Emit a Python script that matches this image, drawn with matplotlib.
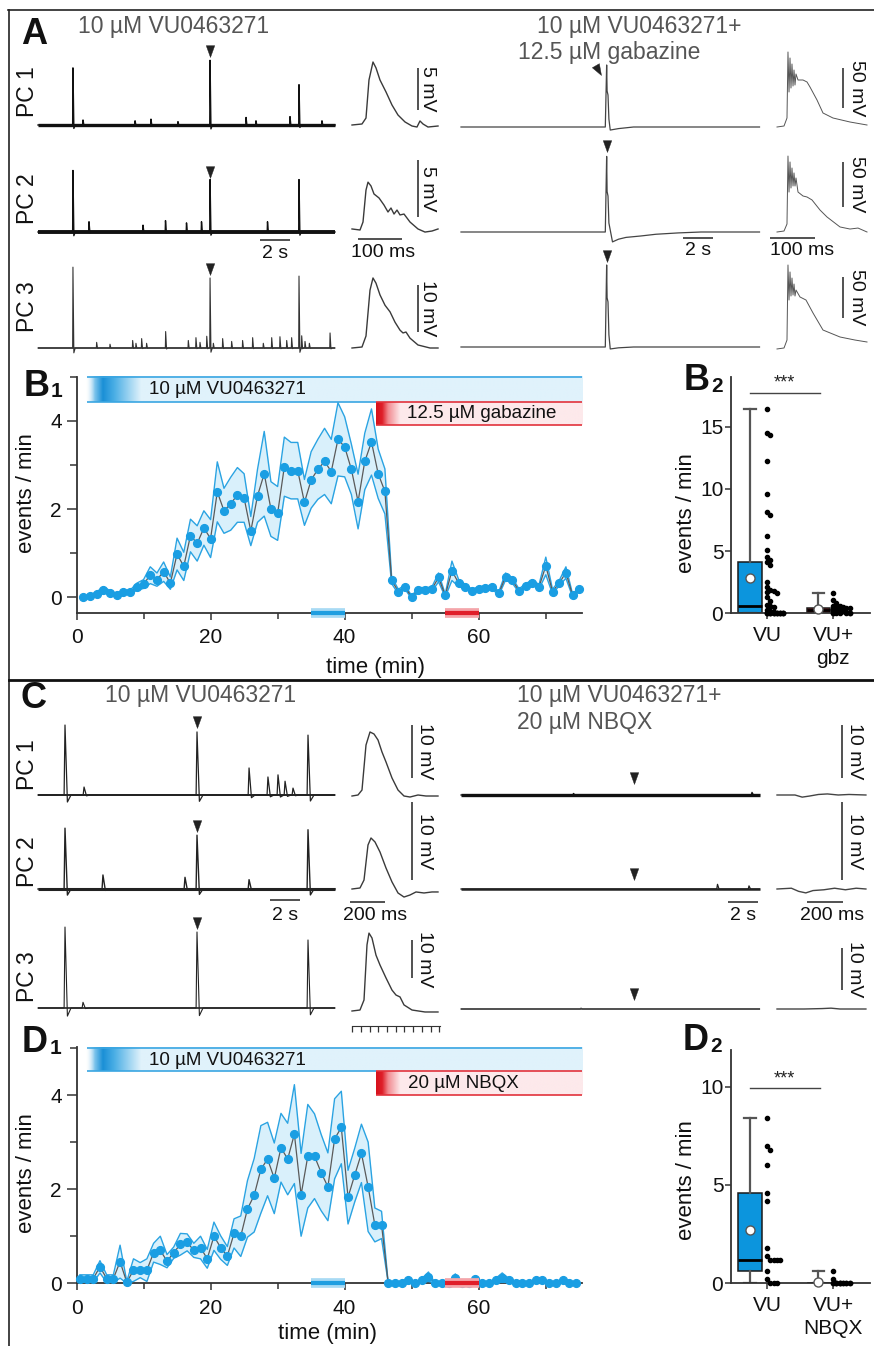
import numpy as np
import matplotlib
matplotlib.use("Agg")
import matplotlib.pyplot as plt
from matplotlib.path import Path
from matplotlib.transforms import Affine2D
from matplotlib.lines import Line2D
from matplotlib.colors import to_rgba
from matplotlib.ticker import FixedLocator

plt.rcParams['font.family'] = ['Liberation Sans', 'DejaVu Sans']
MU = '\u00b5'

# ---------------------------------------------------------------- data
# B1: event rate during VU0463271, then VU0463271 + gabazine (mean, SEM)
time_b = np.arange(1, 76)
rate_b = [0.0, 0.03, 0.08, 0.17, 0.1, 0.05, 0.12, 0.12, 0.24, 0.3,
          0.5, 0.4, 0.58, 0.32, 0.98, 0.7, 1.4, 1.22, 1.57, 1.33,
          2.39, 1.96, 2.12, 2.32, 2.25, 1.5, 2.3, 2.8, 2.0, 1.9,
          2.96, 2.87, 2.87, 2.15, 2.66, 2.9, 3.08, 2.85, 3.58, 3.41,
          2.9, 2.17, 3.08, 3.52, 2.8, 2.4, 0.39, 0.13, 0.23, 0.0,
          0.17, 0.17, 0.18, 0.45, 0.04, 0.6, 0.32, 0.24, 0.14, 0.19,
          0.2, 0.23, 0.09, 0.47, 0.38, 0.15, 0.26, 0.33, 0.24, 0.71,
          0.13, 0.32, 0.56, 0.04, 0.19]
sem_b = [0.02, 0.03, 0.04, 0.07, 0.05, 0.03, 0.04, 0.04, 0.08, 0.1,
         0.19, 0.15, 0.22, 0.14, 0.36, 0.32, 0.37, 0.4, 0.39, 0.43,
         0.68, 0.51, 0.6, 0.62, 0.55, 0.33, 0.6, 0.96, 0.62, 0.61,
         0.67, 0.64, 0.64, 0.52, 0.64, 0.68, 0.75, 0.73, 0.83, 0.68,
         0.57, 0.62, 0.64, 0.75, 0.56, 0.51, 0.08, 0.05, 0.05, 0.03,
         0.05, 0.05, 0.05, 0.1, 0.03, 0.22, 0.08, 0.05, 0.04, 0.05,
         0.05, 0.05, 0.04, 0.08, 0.06, 0.04, 0.05, 0.06, 0.05, 0.2,
         0.05, 0.06, 0.13, 0.03, 0.05]

# D1: event rate during VU0463271, then VU0463271 + NBQX (mean, SEM)
time_d = np.arange(0.5, 75, 1.0)
rate_d = [0.1, 0.1, 0.1, 0.35, 0.1, 0.1, 0.46, 0.02, 0.28, 0.28,
          0.28, 0.65, 0.7, 0.47, 0.65, 0.83, 0.87, 0.7, 0.76, 0.52,
          1.0, 0.76, 0.58, 1.06, 1.0, 1.58, 1.87, 2.42, 2.64, 2.23,
          2.88, 2.64, 3.17, 1.88, 2.7, 2.7, 2.35, 2.05, 3.07, 3.31,
          1.83, 2.3, 2.76, 2.05, 1.24, 1.24, 0.0, 0.0, 0.0, 0.06,
          0.0, 0.06, 0.14, 0.0, 0.0, 0.0, 0.12, 0.0, 0.0, 0.09,
          0.0, 0.0, 0.06, 0.12, 0.06, 0.0, 0.0, 0.0, 0.06, 0.06,
          0.0, 0.0, 0.06, 0.0, 0.0]
sem_d = [0.08, 0.08, 0.08, 0.13, 0.08, 0.08, 0.35, 0.02, 0.24, 0.16,
         0.24, 0.2, 0.3, 0.14, 0.12, 0.23, 0.18, 0.15, 0.24, 0.2,
         0.3, 0.25, 0.2, 0.31, 0.43, 0.6, 0.78, 0.93, 0.78, 0.75,
         0.73, 0.76, 1.05, 0.88, 1.1, 0.9, 0.81, 0.72, 0.85, 0.77,
         0.57, 0.57, 0.62, 0.95, 0.36, 0.29, 0.0, 0.0, 0.0, 0.04,
         0.0, 0.04, 0.1, 0.0, 0.0, 0.0, 0.08, 0.0, 0.0, 0.06,
         0.0, 0.0, 0.04, 0.1, 0.04, 0.0, 0.0, 0.0, 0.04, 0.04,
         0.0, 0.0, 0.04, 0.0, 0.0]

# drug application (min)
vu_start = 1.2
second_drug_start = 44.6
record_end = 75.4
window_vu = (35, 40)
window_drug = (55, 60)

# B2 / D2: per-cell event rates (events/min)
b2_vu = [16.4, 14.5, 14.3, 12.2, 9.6, 8.1, 7.9, 6.2, 5.1, 4.5, 4.3, 4.1, 3.9,
         2.5, 2.1, 1.9, 1.8, 1.7, 1.6, 1.3, 1.0, 0.7, 0.6, 0.5, 0.3, 0.2, 0.1] + [0.0] * 18
b2_gbz = [1.65, 1.05, 0.8, 0.6, 0.55, 0.5, 0.45, 0.4, 0.4, 0.35, 0.3, 0.3, 0.25,
          0.2, 0.2, 0.15, 0.1, 0.1, 0.05, 0.05] + [0.0] * 5
d2_vu = [8.4, 7.0, 6.8, 6.0, 4.6, 4.2, 1.8, 1.4, 1.2, 1.2, 1.2, 1.2, 0.6, 0.2, 0.0, 0.0, 0.0]
d2_nbqx = [0.6, 0.2] + [0.0] * 14
b2_labels = ['VU', 'VU+\ngbz']
d2_labels = ['VU', 'VU+\nNBQX']

# A: recordings in VU0463271 -- event times (s) and amplitudes (mV)
a_vu1_t = [2.33, 3.0, 6.47, 7.53, 9.33, 11.47, 13.87, 14.53, 16.8, 17.4, 18.93]
a_vu1_a = [6.8, 0.6, 0.5, 0.7, 0.4, 7.7, 0.9, 0.5, 1.0, 4.8, 0.5]
a_vu2_t = [2.33, 3.4, 7.0, 8.5, 9.9, 10.9, 11.47, 15.3, 17.4]
a_vu2_a = [5.4, 0.9, 0.6, 1.0, 0.8, 0.9, 4.6, 0.9, 4.6]
a_vu3_t = [2.33, 3.91, 4.8, 6.31, 6.53, 6.91, 7.24, 8.51, 10.02, 10.53, 10.8, 11.25,
           11.47, 11.69, 12.31, 12.91, 13.64, 14.31, 15.02, 15.58, 16.13, 16.58,
           16.91, 17.4, 17.58, 17.8, 18.09, 19.47]
a_vu3_a = [17.2, 1.2, 0.8, 1.6, 1.0, 2.0, 1.0, 3.5, 1.6, 2.2, 1.2, 2.5,
           14.9, 1.0, 2.0, 1.4, 1.6, 2.2, 1.0, 2.2, 2.4, 1.6,
           2.2, 15.3, 2.6, 1.4, 1.0, 3.2]
# expanded events (ms, mV)
a_ex1_ms = [0, 22.7, 31.8, 38.6, 47.7, 54.5, 63.6, 77.3, 90.9, 104.5, 120.5, 136.4, 147.7, 154.5, 161.4, 172.7, 195.5]
a_ex1_mv = [0, 0.12, 0.83, 5.36, 7.5, 6.8, 5.36, 3.93, 2.38, 1.19, 0.36, -0.12, -0.24, 0.48, 0.12, -0.24, -0.12]
a_ex2_ms = [0, 18.2, 25, 31.8, 36.4, 43.2, 50, 61.4, 72.7, 81.8, 88.6, 95.5, 102.3, 109.1, 118.2, 131.8, 150, 165.9, 181.8, 195.5]
a_ex2_mv = [0.09, 0, 0.7, 3.5, 4.2, 3.86, 3.16, 2.81, 2.19, 1.58, 1.93, 1.4, 1.75, 1.32, 1.4, 0.7, 0.09, -0.18, -0.09, 0.09]
a_ex3_ms = [0, 22.7, 31.8, 40.9, 47.7, 54.5, 63.6, 75, 86.4, 97.7, 109.1, 115.9, 122.7, 131.8, 150, 177.3, 195.5]
a_ex3_mv = [0, 0.21, 2.55, 12.3, 14.9, 13.8, 11.3, 9.1, 7.7, 5.5, 3.8, 3.2, 3.4, 2.1, 0.64, 0, 0]

# A: recordings in VU0463271 + gabazine
g_long1_t = [0, 9.62, 9.71, 9.74, 9.8, 9.86, 9.95, 10.5, 11.5, 19.9]
g_long1_v = [0, 0, 77.5, 45, 40, 10, -3.8, -2, 0, 0]
g_long2_t = [0, 9.62, 9.71, 9.74, 9.8, 9.86, 10.1, 10.5, 11.0, 12.0, 13.0, 14.5, 16.0, 19.9]
g_long2_v = [0, 0, 84, 45, 40, 10, -11, -8, -6, -4.4, -2.5, -1, 0, 0]
g_long3_t = [0, 9.62, 9.71, 9.74, 9.8, 9.86, 9.95, 10.5, 11.5, 19.9]
g_long3_v = [0, 0, 100, 60, 55, 15, -2.4, -1, 0, 0]
g_ex1_ms = [0, 15.6, 22.2, 24.4, 26.7, 28.9, 31.1, 33.3, 35.6, 37.8, 40, 42.2, 46.7, 57.8, 66.7, 73.3, 88.9, 102.2, 124.4, 162.2, 200]
g_ex1_mv = [0, 1.25, 11.25, 93.75, 43.75, 86.25, 48.75, 78.75, 51.25, 71.25, 52.5, 66.25, 58.75, 58.75, 56.25, 50, 33.75, 17.5, 11.25, 6.25, 2.5]
g_ex2_ms = [0, 15.6, 22.2, 24.4, 26.7, 28.9, 31.1, 33.3, 35.6, 37.8, 40, 42.2, 46.7, 57.8, 66.7, 77.8, 95.6, 111.1, 140, 162.2, 180, 200]
g_ex2_mv = [0, 1.1, 8.9, 84.4, 44.4, 77.8, 48.9, 71.1, 51.1, 65.6, 51.1, 60, 44.4, 40, 38.9, 35.6, 24.4, 16.7, 5.6, 3.3, 4.4, 0]
g_ex3_ms = [0, 15.6, 22.2, 24.4, 26.7, 28.9, 31.1, 33.3, 35.6, 37.8, 40, 42.2, 51.1, 64.4, 80, 102.2, 140, 173.3, 200]
g_ex3_mv = [-2.4, -1.2, 8.5, 100, 57.3, 91.5, 62.2, 84.1, 63.4, 76.8, 62.2, 69.5, 61, 57.3, 41.5, 20.7, 12.2, 8.5, 6.1]

# C: recordings in VU0463271
c_vu1_t = [1.8, 3.07, 10.6, 14.07, 15.33, 16.0, 16.47, 17.0, 18.0]
c_vu1_a = [13.2, 1.5, 11.9, 5.1, 3.4, 3.8, 2.6, 1.3, 11.3]
c_vu2_t = [1.8, 4.33, 9.8, 10.6, 14.07, 18.0]
c_vu2_a = [7.8, 1.8, 1.5, 6.9, 1.2, 7.6]
c_vu3_t = [1.8, 3.0, 10.6, 18.0]
c_vu3_a = [21.3, 1.5, 20.0, 17.9]
c_ex1_ms = [0, 34.3, 57.1, 80, 102.9, 125.7, 148.6, 171.4, 194.3, 228.6, 262.9, 297.1, 331.4, 377.1, 422.9, 491.4]
c_ex1_mv = [-0.19, 0, 0.94, 9.43, 11.89, 11.51, 10.38, 8.11, 6.23, 3.21, 0.94, -0.19, -0.38, 0, -0.19, -0.19]
c_ex2_ms = [0, 45.7, 68.6, 91.4, 108.6, 131.4, 160, 194.3, 228.6, 262.9, 297.1, 331.4, 365.7, 411.4, 457.1, 491.4]
c_ex2_mv = [0, 0.13, 1.15, 5.64, 6.54, 6.03, 4.74, 2.69, 0.9, -0.51, -1.03, -0.77, -0.38, -0.51, -0.38, -0.38]
c_ex3_ms = [0, 45.7, 68.6, 85.7, 97.1, 114.3, 137.1, 160, 194.3, 228.6, 251.4, 274.3, 297.1, 342.9, 417.1, 491.4]
c_ex3_mv = [0, 0.26, 2.89, 17.4, 20.5, 19.2, 14.7, 12.1, 8.7, 5.5, 4.2, 3.7, 1.6, 0.26, -0.26, -0.26]

# C: recordings in VU0463271 + NBQX
n_vu1_t = [7.5, 19.4]
n_vu1_a = [0.3, 0.5]
n_vu2_t = [17.1, 19.2]
n_vu2_a = [0.6, 0.4]
n_vu3_t = [8.0]
n_vu3_a = [0.2]
n_ex1_ms = [0, 100, 140, 180, 230, 280, 340, 400, 494]
n_ex1_mv = [0, 0, -0.4, -0.2, 0.1, 0.2, 0, 0.1, 0]
n_ex2_ms = [0, 80, 120, 160, 200, 260, 320, 380, 440, 494]
n_ex2_mv = [0, 0.1, -0.3, -0.5, -0.2, -0.1, 0.1, -0.1, 0.1, 0]
n_ex3_ms = [0, 150, 250, 300, 350, 494]
n_ex3_mv = [0, 0, 0.1, 0.2, 0, 0]

# ---------------------------------------------------------------- helpers
W, H = 874, 1346
fig = plt.figure(figsize=(W / 100, H / 100), dpi=100)
fig.patch.set_facecolor('white')

INK = '#222222'


def px_axes(x0, y0, x1, y1):
    return fig.add_axes([x0 / W, 1 - y1 / H, (x1 - x0) / W, (y1 - y0) / H])


def ftext(x, y, s, **kw):
    kw.setdefault('ha', 'center')
    kw.setdefault('va', 'center')
    return fig.text(x / W, 1 - y / H, s, **kw)


def fline(xs, ys, **kw):
    fig.add_artist(Line2D([x / W for x in xs], [1 - y / H for y in ys],
                          transform=fig.transFigure, **kw))


def trace_axes(x0, x1, base, k_y, k_x, up=120, down=45):
    """Blank axes where 1 unit on y spans k_y pixels and 1 unit on x spans k_x pixels."""
    ax = px_axes(x0, base - up, x1, base + down)
    ax.set_xlim(0, (x1 - x0) / k_x)
    ax.set_ylim(-down / k_y, up / k_y)
    ax.axis('off')
    return ax


def spike_train(duration, times, amps, rise, fall, under, recover):
    pts = [(0.0, 0.0)]
    for t, a in sorted(zip(times, amps)):
        pts += [(t - rise, 0.0), (t, a), (t + fall, -under * a), (t + recover, 0.0)]
    pts.append((duration, 0.0))
    arr = np.array(pts)
    return arr[:, 0], arr[:, 1]


def draw_trace(ax, duration, x, y, lw, noise_lw, color):
    # thick baseline stands in for the membrane noise band
    ax.plot([0, duration], [0, 0], color=color, lw=noise_lw, clip_on=False,
            solid_capstyle='butt')
    ax.plot(x, y, color=color, lw=lw, clip_on=False)


def vbar(ax, x, top, length, label, lx):
    ax.plot([x, x], [top, top - length], color=INK, lw=1.1, clip_on=False,
            solid_capstyle='butt')
    ax.text(lx, top - length / 2, label, rotation=270, ha='center', va='center',
            fontsize=14, color='#111111', clip_on=False)


def hbar(ax, x0, x1, y, label, tx, ty):
    ax.plot([x0, x1], [y, y], color=INK, lw=1.1, clip_on=False, solid_capstyle='butt')
    ax.text(tx, ty, label, ha='center', va='center', fontsize=14, color='#111111',
            clip_on=False)


ARROW = Path([(0, 0), (-0.36, 1.0), (0.36, 1.0), (0, 0)],
             [Path.MOVETO, Path.LINETO, Path.LINETO, Path.CLOSEPOLY])
ARROW_TILT = ARROW.transformed(Affine2D().rotate_deg(30))


def arrowhead(ax, t, y, path=ARROW):
    ax.plot([t], [y], ls='none', marker=path, ms=17, color=INK, mec=INK,
            mew=0.3, clip_on=False)


def gradient_bar(ax, x0, x1, y0, y1, stops_x, stops_c, n=500):
    xs = np.linspace(x0, x1, n)
    cols = np.array([to_rgba(c) for c in stops_c])
    img = np.zeros((1, n, 4))
    for k in range(4):
        img[0, :, k] = np.interp(xs, stops_x, cols[:, k])
    ax.imshow(img, extent=(x0, x1, y0, y1), aspect='auto', interpolation='bilinear',
              zorder=1, clip_on=False)


def style_axes(ax):
    for s in ('top', 'right'):
        ax.spines[s].set_visible(False)
    for s in ('left', 'bottom'):
        ax.spines[s].set_color('#333333')
        ax.spines[s].set_linewidth(1.3)
    ax.tick_params(which='both', colors='#333333', labelcolor='#111111',
                   labelsize=15, width=1.1)
    ax.patch.set_alpha(0)


def timecourse(ax, t, mean, sem, ylim, clip_low, blue_band, red_band,
               blue_y, red_label, red_x, red_y):
    t = np.asarray(t, float)
    mean = np.asarray(mean, float)
    sem = np.asarray(sem, float)
    hi = mean + sem
    lo = mean - sem
    if clip_low:
        lo = np.clip(lo, 0, None)
    ax.fill_between(t, lo, hi, color='#d9f0fb', lw=0, zorder=2)
    ax.plot(t, hi, color='#2aa3e2', lw=1.0, zorder=3)
    ax.plot(t, lo, color='#2aa3e2', lw=1.0, zorder=3, clip_on=False)
    ax.plot(t, mean, color='#5a5a5a', lw=0.9, zorder=4, clip_on=False)
    ax.plot(t, mean, ls='none', marker='o', ms=5.6, color='#1a9ee3', zorder=5,
            clip_on=False)

    # drug application bars
    gradient_bar(ax, vu_start, record_end, blue_band[0], blue_band[1],
                 [vu_start, 2.6, 3.8, 5.5, 9.5, record_end],
                 [(1, 1, 1, 0), '#7cc4ec', '#1a8fd6', '#4aaee5', '#e0f2fb', '#e0f2fb'])
    gradient_bar(ax, second_drug_start, record_end, red_band[0], red_band[1],
                 [second_drug_start, second_drug_start + 0.9, second_drug_start + 1.8,
                  second_drug_start + 3.6, record_end],
                 ['#d7121c', '#de1f29', '#f28b91', '#fde9eb', '#fde9eb'])
    kw = dict(lw=1.2, clip_on=False, zorder=2, solid_capstyle='butt')
    ax.plot([vu_start + 0.4, record_end], [blue_band[1]] * 2, color='#3aa6e2', **kw)
    ax.plot([vu_start + 0.4, second_drug_start], [blue_band[0]] * 2, color='#3aa6e2', **kw)
    ax.plot([second_drug_start, record_end], [red_band[1]] * 2, color='#e2323c', **kw)
    ax.plot([second_drug_start, record_end], [red_band[0]] * 2, color='#e2323c', **kw)
    ax.text(22.5, blue_y, f'10 {MU}M VU0463271', fontsize=13.5, ha='center',
            va='center', color='#111111', zorder=6)
    ax.text(red_x, red_y, red_label, fontsize=13.5, ha='center', va='center',
            color='#111111', zorder=6)

    # analysis windows on the time axis
    y_axis = ylim[0]
    for (a, b), light, dark in ((window_vu, '#a8daf4', '#1f9ee0'),
                                (window_drug, '#f4a5aa', '#e01e2a')):
        ax.plot([a, b], [y_axis] * 2, lw=7, color=light, solid_capstyle='butt',
                clip_on=False, zorder=6)
        ax.plot([a, b], [y_axis] * 2, lw=3, color=dark, solid_capstyle='butt',
                clip_on=False, zorder=7)

    ax.set_xlim(0, record_end)
    ax.set_ylim(*ylim)
    style_axes(ax)
    ax.xaxis.set_major_locator(FixedLocator([0, 20, 40, 60]))
    ax.xaxis.set_minor_locator(FixedLocator([10, 30, 50, 70]))
    ax.yaxis.set_major_locator(FixedLocator([0, 2, 4]))
    ax.yaxis.set_minor_locator(FixedLocator([1, 3, 5]))
    ax.tick_params(axis='y', which='major', length=7)
    ax.tick_params(axis='y', which='minor', length=5)
    ax.tick_params(axis='x', which='major', length=5, pad=6)
    ax.tick_params(axis='x', which='minor', length=4)


def swarm_x(vals, base, px_per_unit, step=0.05, gap_px=4.0, ncol=6):
    vals = np.asarray(vals, float)
    order = np.argsort(-vals, kind='stable')
    placed = []
    xs = np.zeros(len(vals))
    for i in order:
        v = vals[i]
        j = 0
        while any(abs(v - pv) * px_per_unit < gap_px and pj == j for pv, pj in placed):
            j += 1
        placed.append((v, j))
        xs[i] = base + (j % ncol) * step
    return xs


def box_panel(ax, groups, labels, box_colors, ylim, yticks, px_per_unit, sig_y, star_y):
    box_pos = [0.74, 1.78]
    bp = ax.boxplot(groups, positions=box_pos, widths=0.36, whis=(0, 100),
                    showmeans=True, patch_artist=True, showfliers=False,
                    manage_ticks=False,
                    boxprops=dict(edgecolor='#1a1a1a', linewidth=1.1),
                    medianprops=dict(color='black', linewidth=2.0),
                    whiskerprops=dict(color='#555555', linewidth=1.6),
                    capprops=dict(color='#555555', linewidth=1.6),
                    meanprops=dict(marker='o', markerfacecolor='white',
                                   markeredgecolor='#555555', markersize=6.5))
    for patch, c in zip(bp['boxes'], box_colors):
        patch.set_facecolor(c)
    for art in bp['means']:
        art.set_zorder(5)
        art.set_clip_on(False)
    for k, vals in enumerate(groups):
        xs = swarm_x(vals, k + 1.0, px_per_unit)
        ax.plot(xs, vals, ls='none', marker='o', ms=3.0, color='black',
                clip_on=False, zorder=4)
    ax.plot([0.75, 1.81], [sig_y] * 2, color='#444444', lw=1.0, clip_on=False)
    ax.text(1.26, star_y, '***', ha='center', va='center', fontsize=13, color='#222222')
    ax.set_xlim(0.455, 2.56)
    ax.set_ylim(*ylim)
    style_axes(ax)
    ax.set_xticks([1, 2])
    ax.set_xticklabels(labels, linespacing=1.3)
    ax.set_yticks(yticks)
    ax.tick_params(axis='y', length=4, pad=1.5)
    ax.tick_params(axis='x', length=4, pad=5)


# ---------------------------------------------------------------- frame
fline([8, 874], [10, 10], color='#222222', lw=1.2)
fline([9, 9], [10, 1346], color='#222222', lw=1.2)
fline([9, 874], [680, 680], color='#111111', lw=2.0)

# ---------------------------------------------------------------- panel A
ftext(34, 34, 'A', fontsize=26, fontweight='bold', color='#111111')
ftext(78, 27, f'10 {MU}M VU0463271', ha='left', fontsize=16.5, color='#555555')
ftext(537, 27, f'10 {MU}M VU0463271+', ha='left', fontsize=16.5, color='#555555')
ftext(518, 52, f'12.5 {MU}M gabazine', ha='left', fontsize=16.5, color='#555555')
for y, s in ((92, 'PC 1'), (199, 'PC 2'), (307, 'PC 3')):
    ftext(27, y, s, rotation=90, fontsize=16.5, color='#111111')

vu_rows = [  # base px, px per mV, events, trace lw, noise lw, colour
    (125, 8.4, a_vu1_t, a_vu1_a, 1.0, 2.4, '#111111'),
    (232, 11.4, a_vu2_t, a_vu2_a, 1.0, 2.8, '#111111'),
    (348, 4.7, a_vu3_t, a_vu3_a, 0.8, 1.1, '#333333'),
]
vu_exp = [(a_ex1_ms, a_ex1_mv), (a_ex2_ms, a_ex2_mv), (a_ex3_ms, a_ex3_mv)]
vu_arrow_tip = [8.1, 4.7, 15.5]
vu_bar = [(6.79, 5, '5 mV'), (6.14, 5, '5 mV'), (13.4, 10, '10 mV')]
for r, (base, k, tt, aa, lw, nlw, col) in enumerate(vu_rows):
    ax = trace_axes(38, 335, base, k, 15.0)
    x, y = spike_train(19.8, tt, aa, 0.02, 0.06, 0.06, 0.15)
    draw_trace(ax, 19.8, x, y, lw, nlw, col)
    arrowhead(ax, 11.47, vu_arrow_tip[r])
    if r == 1:
        hbar(ax, 14.8, 16.8, -0.7, '2 s', 15.8, -1.9)
    axe = trace_axes(352, 440, base if r != 1 else 230, k, 0.44)
    axe.plot(vu_exp[r][0], vu_exp[r][1], color='#3a3a3a', lw=1.0, clip_on=False)
    top, length, lab = vu_bar[r]
    vbar(axe, 150, top, length, lab, 172.7)
    if r == 1:
        hbar(axe, 13.6, 113.6, -0.79, '100 ms', 70.5, -2.0)

gbz_rows = [(127, 0.8, g_long1_t, g_long1_v), (232, 0.9, g_long2_t, g_long2_v),
            (347, 0.82, g_long3_t, g_long3_v)]
gbz_exp = [(g_ex1_ms, g_ex1_mv), (g_ex2_ms, g_ex2_mv), (g_ex3_ms, g_ex3_mv)]
gbz_bar = [73.75, 77.8, 85.4]
for r, (base, k, tt, vv) in enumerate(gbz_rows):
    ax = trace_axes(461, 760, base, k, 15.0)
    ax.plot(tt, vv, color='#444444', lw=0.9, clip_on=False)
    if r == 0:
        arrowhead(ax, 9.33, 65, ARROW_TILT)
    elif r == 1:
        arrowhead(ax, 9.71, 89)
        hbar(ax, 14.8, 16.8, -6.7, '2 s', 15.8, -21.1)
    else:
        arrowhead(ax, 9.71, 103.7)
    axe = trace_axes(777, 867, base, k, 0.45)
    axe.plot(gbz_exp[r][0], gbz_exp[r][1], color='#555555', lw=0.7, clip_on=False)
    vbar(axe, 146.7, gbz_bar[r], 50, '50 mV', 175.6)
    if r == 1:
        hbar(axe, -15.6, 84.4, -6.7, '100 ms', 55.6, -21.1)

# ---------------------------------------------------------------- panel B1
ax_b1 = px_axes(76.5, 376.7, 582, 612.7)
timecourse(ax_b1, time_b, rate_b, sem_b, (-0.35, 5.0), False, (4.42, 5.0), (3.91, 4.42),
           4.72, f'12.5 {MU}M gabazine', 60.5, 4.17)
ftext(37, 386, 'B', fontsize=26, fontweight='bold', color='#111111')
ftext(56, 391, '1', fontsize=15, fontweight='bold', color='#111111')
ftext(27, 493, 'events / min', rotation=90, fontsize=16, color='#111111')
ftext(376, 668, 'time (min)', fontsize=16, color='#111111')

# ---------------------------------------------------------------- panel B2
ax_b2 = px_axes(731, 376.7, 870, 613.3)
box_panel(ax_b2, [b2_vu, b2_gbz], b2_labels, ['#0c95dd', '#9c1b1e'], (0, 19),
          [0, 5, 10, 15], 12.47, 17.7, 18.5)
ftext(697, 381, 'B', fontsize=26, fontweight='bold', color='#111111')
ftext(717, 386, '2', fontsize=15, fontweight='bold', color='#111111')
ftext(686, 513, 'events / min', rotation=90, fontsize=16, color='#111111')

# ---------------------------------------------------------------- panel C
ftext(34, 698, 'C', fontsize=26, fontweight='bold', color='#111111')
ftext(105, 695, f'10 {MU}M VU0463271', ha='left', fontsize=16.5, color='#555555')
ftext(517, 695, f'10 {MU}M VU0463271+', ha='left', fontsize=16.5, color='#555555')
ftext(517, 722, f'20 {MU}M NBQX', ha='left', fontsize=16.5, color='#555555')
for y, s in ((765, 'PC 1'), (862, 'PC 2'), (977, 'PC 3')):
    ftext(27, y, s, rotation=90, fontsize=16.5, color='#111111')

c_rows = [(795, 5.3, c_vu1_t, c_vu1_a, 0.9, 1.4), (889, 7.8, c_vu2_t, c_vu2_a, 1.0, 2.2),
          (1008, 3.8, c_vu3_t, c_vu3_a, 0.8, 1.2)]
c_exp = [(c_ex1_ms, c_ex1_mv), (c_ex2_ms, c_ex2_mv), (c_ex3_ms, c_ex3_mv)]
c_exp_base = [795, 889, 1011]
c_arrow_tip = [12.6, 7.3, 20.8]
c_bar = [13.2, 11.15, 18.7]
for r, (base, k, tt, aa, lw, nlw) in enumerate(c_rows):
    ax = trace_axes(38, 335, base, k, 15.0)
    x, y = spike_train(19.8, tt, aa, 0.06, 0.16, 0.1, 0.4)
    draw_trace(ax, 19.8, x, y, lw, nlw, '#222222')
    arrowhead(ax, 10.6, c_arrow_tip[r])
    if r == 1:
        hbar(ax, 15.47, 17.47, -1.41, '2 s', 16.47, -3.46)
    axe = trace_axes(352, 440, c_exp_base[r], k, 0.175)
    axe.plot(c_exp[r][0], c_exp[r][1], color='#3a3a3a', lw=1.0, clip_on=False)
    vbar(axe, 342.9, c_bar[r], 10, '10 mV', 417)
    if r == 1:
        hbar(axe, -11.4, 188.6, -1.67, '200 ms', 131, -3.46)

# time ruler under the expanded event
ax_r = px_axes(352, 1020, 440, 1026)
ax_r.set_xlim(0, 88 / 0.175)
ax_r.set_ylim(0, 1)
for s in ('top', 'right', 'left'):
    ax_r.spines[s].set_visible(False)
ax_r.spines['bottom'].set_color('#333333')
ax_r.set_yticks([])
ax_r.set_xticks(np.arange(0, 501, 50))
ax_r.set_xticklabels([])
ax_r.tick_params(axis='x', length=4, width=0.9, colors='#333333')
ax_r.patch.set_alpha(0)

n_rows = [(795, 5.3, n_vu1_t, n_vu1_a, 2.4, '#111111'),
          (889, 7.8, n_vu2_t, n_vu2_a, 1.8, '#222222'),
          (1009, 4.2, n_vu3_t, n_vu3_a, 1.1, '#444444')]
n_exp = [(n_ex1_ms, n_ex1_mv), (n_ex2_ms, n_ex2_mv), (n_ex3_ms, n_ex3_mv)]
n_arrow_tip = [2.1, 1.15, 2.1]
n_bar = [13.2, 11.15, 14.5]
for r, (base, k, tt, aa, nlw, col) in enumerate(n_rows):
    ax = trace_axes(461, 760, base, k, 15.0)
    x, y = spike_train(19.9, tt, aa, 0.05, 0.1, 0.0, 0.2)
    draw_trace(ax, 19.9, x, y, 0.9, nlw, col)
    arrowhead(ax, 11.53, n_arrow_tip[r])
    if r == 1:
        hbar(ax, 17.8, 19.8, -1.67, '2 s', 18.8, -3.46)
    axe = trace_axes(777, 866, base, k, 0.18)
    axe.plot(n_exp[r][0], n_exp[r][1], color='#444444', lw=1.0, clip_on=False)
    vbar(axe, 361, n_bar[r], 10, '10 mV', 433)
    if r == 1:
        hbar(axe, 166.7, 366.7, -1.67, '200 ms', 305, -3.46)

# ---------------------------------------------------------------- panel D1
ax_d1 = px_axes(76.5, 1047, 582, 1283.3)
timecourse(ax_d1, time_d, rate_d, sem_d, (0.0, 5.02), True, (4.5, 5.0), (4.0, 4.5),
           4.74, f'20 {MU}M NBQX', 57.7, 4.25)
ftext(35, 1042, 'D', fontsize=26, fontweight='bold', color='#111111')
ftext(55, 1049, '1', fontsize=15, fontweight='bold', color='#111111')
ftext(27, 1173, 'events / min', rotation=90, fontsize=16, color='#111111')
ftext(327, 1333, 'time (min)', fontsize=16, color='#111111')

# ---------------------------------------------------------------- panel D2
ax_d2 = px_axes(731, 1050, 870, 1283.3)
box_panel(ax_d2, [d2_vu, d2_nbqx], d2_labels, ['#0c95dd', '#9c1b1e'], (0, 11.86),
          [0, 5, 10], 19.67, 9.94, 10.4)
ftext(696, 1040, 'D', fontsize=26, fontweight='bold', color='#111111')
ftext(716, 1047, '2', fontsize=15, fontweight='bold', color='#111111')
ftext(686, 1180, 'events / min', rotation=90, fontsize=16, color='#111111')

fig.savefig('out.png', dpi=100, facecolor='white')
